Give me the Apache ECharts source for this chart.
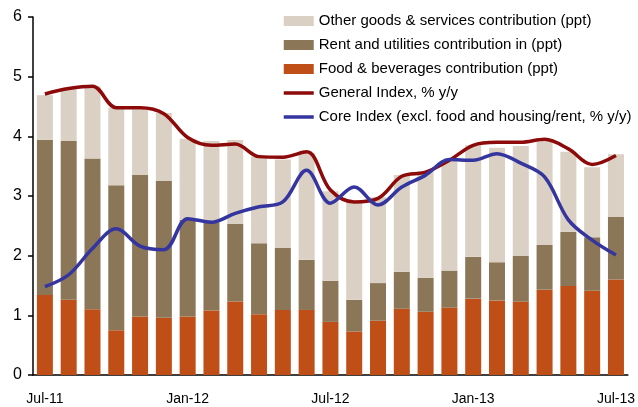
<!DOCTYPE html>
<html>
<head>
<meta charset="utf-8">
<script src="https://cdn.jsdelivr.net/npm/echarts@6/dist/echarts.min.js"></script>
<style>
  html, body { margin: 0; padding: 0; background: #fff; }
  #chart { width: 638px; height: 407px; }
</style>
</head>
<body>
<div id="chart"></div>
<script>
// months, Jul-11 .. Jul-13
var months = ['Jul-11', 'Aug-11', 'Sep-11', 'Oct-11', 'Nov-11', 'Dec-11',
  'Jan-12', 'Feb-12', 'Mar-12', 'Apr-12', 'May-12', 'Jun-12',
  'Jul-12', 'Aug-12', 'Sep-12', 'Oct-12', 'Nov-12', 'Dec-12',
  'Jan-13', 'Feb-13', 'Mar-13', 'Apr-13', 'May-13', 'Jun-13', 'Jul-13']

// contributions (ppt), stacked food -> rent -> other
var foodContrib = [1.34, 1.26, 1.10, 0.75, 0.98, 0.96, 0.98, 1.08, 1.23, 1.02, 1.09, 1.09,
  0.89, 0.73, 0.91, 1.11, 1.06, 1.13, 1.28, 1.25, 1.23, 1.43, 1.49, 1.41, 1.60]
var rentContrib = [2.60, 2.66, 2.53, 2.43, 2.37, 2.29, 1.62, 1.48, 1.30, 1.19, 1.04, 0.84,
  0.69, 0.53, 0.63, 0.62, 0.57, 0.62, 0.70, 0.64, 0.77, 0.75, 0.91, 0.90, 1.05]
var otherContrib = [0.75, 0.88, 1.21, 1.30, 1.10, 1.14, 1.36, 1.36, 1.41, 1.45, 1.48, 1.79,
  1.50, 1.64, 1.44, 1.62, 1.79, 1.85, 1.87, 1.92, 1.84, 1.74, 1.34, 1.17, 1.05]

// % y/y
var generalIndex = [4.71, 4.80, 4.84, 4.48, 4.48, 4.38, 3.98, 3.85, 3.87, 3.66, 3.65, 3.74,
  3.10, 2.90, 2.96, 3.33, 3.40, 3.60, 3.85, 3.90, 3.90, 3.95, 3.79, 3.53, 3.68]
var coreIndex = [1.48, 1.68, 2.12, 2.45, 2.16, 2.10, 2.62, 2.56, 2.71, 2.82, 2.90, 3.43,
  2.88, 3.15, 2.85, 3.15, 3.35, 3.61, 3.60, 3.71, 3.55, 3.32, 2.60, 2.26, 2.01]

var yTicks = [0, 6, 1] // min, max, step

var names = {
  other: 'Other goods & services contribution (ppt)',
  rent: 'Rent and utilities contribution in (ppt)',
  food: 'Food & beverages contribution (ppt)',
  general: 'General Index, % y/y',
  core: 'Core Index (excl. food and housing/rent, % y/y)'
}

var font = '"Liberation Sans", Arial, sans-serif'
// hide the little circle echarts puts on line legend icons
var noDot = { opacity: 0 }

var chart = echarts.init(document.getElementById('chart'))
chart.setOption({
  animation: false,
  backgroundColor: '#fff',
  textStyle: { fontFamily: font },
  grid: {
    left: 33,
    right: 9,
    top: 17,
    bottom: 32
  },
  legend: {
    orient: 'vertical',
    left: 277,
    top: 7,
    itemWidth: 30,
    itemHeight: 10,
    itemGap: 6,
    data: [
      { name: names.other, icon: 'rect' },
      { name: names.rent, icon: 'rect' },
      { name: names.food, icon: 'rect' },
      { name: names.general, itemStyle: noDot, lineStyle: { width: 3.5 } },
      { name: names.core, itemStyle: noDot, lineStyle: { width: 3.5 } }
    ],
    textStyle: {
      fontFamily: font,
      fontSize: 15,
      lineHeight: 18,
      color: '#000'
    }
  },
  xAxis: {
    type: 'category',
    data: months,
    axisLine: { lineStyle: { color: '#000', width: 1.5 } },
    axisTick: { length: 6, lineStyle: { color: '#000', width: 1.5 } },
    axisLabel: {
      interval: 5,
      color: '#000',
      fontFamily: font,
      fontSize: 14,
      margin: 17
    },
    splitLine: { show: false }
  },
  yAxis: {
    type: 'value',
    min: yTicks[0],
    max: yTicks[1],
    interval: yTicks[2],
    axisLine: { show: true, lineStyle: { color: '#000', width: 1.5 } },
    axisTick: { show: true, length: 5, lineStyle: { color: '#000', width: 1.5 } },
    axisLabel: {
      color: '#000',
      fontFamily: font,
      fontSize: 16,
      margin: 11
    },
    splitLine: { show: false }
  },
  series: [
    {
      name: names.food,
      type: 'bar',
      stack: 'cpi',
      barWidth: 16,
      itemStyle: { color: '#C04F17' },
      data: foodContrib
    },
    {
      name: names.rent,
      type: 'bar',
      stack: 'cpi',
      barWidth: 16,
      itemStyle: { color: '#8B7757' },
      data: rentContrib
    },
    {
      name: names.other,
      type: 'bar',
      stack: 'cpi',
      barWidth: 16,
      itemStyle: { color: '#DAD0C3' },
      data: otherContrib
    },
    {
      name: names.general,
      type: 'line',
      smooth: 0.35,
      symbol: 'none',
      lineStyle: { color: '#8C0A0A', width: 3.5 },
      itemStyle: { color: '#8C0A0A' },
      data: generalIndex
    },
    {
      name: names.core,
      type: 'line',
      smooth: 0.35,
      symbol: 'none',
      lineStyle: { color: '#3535A0', width: 3.5 },
      itemStyle: { color: '#3535A0' },
      data: coreIndex
    }
  ]
})
</script>
</body>
</html>
